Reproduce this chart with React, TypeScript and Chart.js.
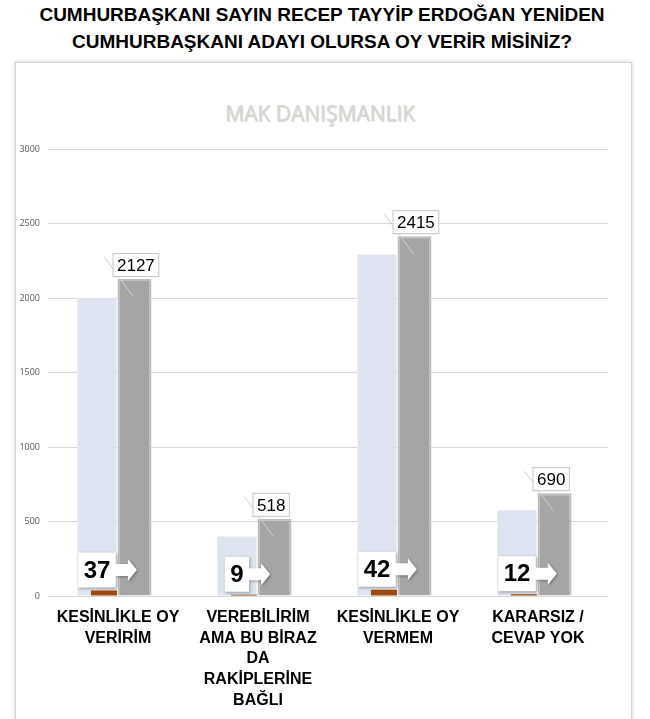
import React, { useEffect, useRef } from "react";
import { Chart, registerables } from "chart.js";

Chart.register(...registerables);

const categories: string[][] = [
  ["KESİNLİKLE OY", "VERİRİM"],
  ["VEREBİLİRİM", "AMA BU BİRAZ", "DA", "RAKİPLERİNE", "BAĞLI"],
  ["KESİNLİKLE OY", "VERMEM"],
  ["KARARSIZ /", "CEVAP YOK"],
];
const percentValues = [37, 9, 42, 12];
const previousValues = [2000, 400, 2290, 575];
const countValues = [2127, 518, 2415, 690];
const yTicks = [0, 500, 1000, 1500, 2000, 2500, 3000];

const labelPlugin = {
  id: "customLabels",
  afterDatasetsDraw(chart: any) {
    const ctx: CanvasRenderingContext2D = chart.ctx;
    const brownMeta = chart.getDatasetMeta(0);
    const blueMeta = chart.getDatasetMeta(1);
    const grayMeta = chart.getDatasetMeta(2);
    ctx.save();
    // gray value labels
    grayMeta.data.forEach((bar: any, i: number) => {
      const p = bar.getProps(["x", "y", "width"], true);
      const left = p.x - p.width / 2;
      const text = String(countValues[i]);
      ctx.font = '17px "Liberation Sans", Arial, sans-serif';
      const tw = ctx.measureText(text).width;
      const bw = tw + 8;
      const bh = 23;
      const bx = left - 5;
      const by = p.y - 3 - bh;
      ctx.strokeStyle = "#cfcfcf";
      ctx.lineWidth = 1;
      ctx.beginPath();
      ctx.moveTo(bx - 8, by + 4);
      ctx.lineTo(p.x - 1, p.y + 18);
      ctx.stroke();
      ctx.fillStyle = "#ffffff";
      ctx.fillRect(bx, by, bw, bh);
      ctx.strokeStyle = "#c4c4c4";
      ctx.strokeRect(bx + 0.5, by + 0.5, bw, bh);
      ctx.fillStyle = "#000000";
      ctx.textAlign = "center";
      ctx.textBaseline = "middle";
      ctx.fillText(text, bx + bw / 2 + 0.5, by + bh / 2 + 1.5);
    });
    // percentage callouts
    brownMeta.data.forEach((bar: any, i: number) => {
      const p = bar.getProps(["x", "y"], true);
      const blue = blueMeta.data[i].getProps(["x"], true);
      const text = String(percentValues[i]);
      ctx.font = 'bold 24px "Liberation Sans", Arial, sans-serif';
      const tw = ctx.measureText(text).width;
      const bw = tw + 11;
      const bh = 35;
      const bx = blue.x - bw / 2;
      const by = p.y - 3 - bh;
      const cy = by + bh / 2;
      const right = bx + bw;
      const tip = right + 21;
      ctx.save();
      ctx.shadowColor = "rgba(0,0,0,0.35)";
      ctx.shadowBlur = 3;
      ctx.shadowOffsetX = 1;
      ctx.shadowOffsetY = 1;
      ctx.fillStyle = "#ffffff";
      ctx.beginPath();
      ctx.moveTo(bx, by);
      ctx.lineTo(right, by);
      ctx.lineTo(right, cy - 6);
      ctx.lineTo(tip - 9, cy - 6);
      ctx.lineTo(tip - 9, cy - 11);
      ctx.lineTo(tip, cy);
      ctx.lineTo(tip - 9, cy + 11);
      ctx.lineTo(tip - 9, cy + 6);
      ctx.lineTo(right, cy + 6);
      ctx.lineTo(right, by + bh);
      ctx.lineTo(bx, by + bh);
      ctx.closePath();
      ctx.fill();
      ctx.restore();
      ctx.fillStyle = "#000000";
      ctx.textAlign = "center";
      ctx.textBaseline = "middle";
      ctx.fillText(text, bx + bw / 2, cy + 1);
    });
    ctx.restore();
  },
};

export default function App() {
  const canvasRef = useRef<HTMLCanvasElement | null>(null);

  useEffect(() => {
    if (!canvasRef.current) return;
    const chart = new Chart(canvasRef.current, {
      type: "bar",
      data: {
        labels: categories,
        datasets: [
          {
            label: "%",
            data: percentValues,
            backgroundColor: "#9e4a10",
            barPercentage: 2.79,
            categoryPercentage: 0.267,
          },
          {
            label: "önceki",
            data: previousValues,
            backgroundColor: "#dde4ef",
            barPercentage: 0.93,
            categoryPercentage: 1.2,
          },
          {
            label: "kişi",
            data: countValues,
            backgroundColor: "#a5a5a5",
            borderColor: "#bdbdbd",
            borderWidth: 2,
            barPercentage: 1.03,
            categoryPercentage: 0.943,
          },
          {
            label: "",
            data: percentValues.map(() => null),
            barPercentage: 1,
            categoryPercentage: 1,
          },
        ] as any,
      },
      options: {
        responsive: false,
        animation: false,
        layout: { padding: { top: 87, right: 24, left: 0, bottom: 0 } },
        plugins: {
          legend: { display: false },
          title: { display: false },
          tooltip: { enabled: false },
        },
        scales: {
          x: {
            type: "category",
            offset: true,
            grid: { display: false },
            border: { display: false },
            ticks: {
              autoSkip: false,
              maxRotation: 0,
              minRotation: 0,
              padding: 3,
              color: "#000000",
              font: {
                family: '"Liberation Sans", Arial, sans-serif',
                size: 16,
                weight: "bold",
                lineHeight: 1.3,
              },
            },
            afterFit: (s: any) => {
              s.height = 123;
            },
          },
          y: {
            min: 0,
            max: 3000,
            afterBuildTicks: (s: any) => {
              s.ticks = yTicks.map((v) => ({ value: v }));
            },
            grid: { color: "#d9d9d9", drawTicks: false },
            border: { display: false },
            ticks: {
              padding: 8,
              color: "#595959",
              font: { family: '"Open Sans", sans-serif', size: 9 },
              callback: (v: any) => String(v),
            },
            afterFit: (s: any) => {
              s.width = 33;
            },
          },
        },
      } as any,
      plugins: [labelPlugin],
    });
    return () => chart.destroy();
  }, []);

  return (
    <div
      style={{
        position: "absolute",
        left: 0,
        top: 0,
        width: 650,
        height: 719,
        overflow: "hidden",
        background: "#ffffff",
      }}
    >
      <div
        style={{
          position: "absolute",
          left: 0,
          top: 1,
          width: 644,
          textAlign: "center",
          fontFamily: '"Liberation Sans", Arial, sans-serif',
          fontWeight: "bold",
          fontSize: 19,
          lineHeight: "27px",
          color: "#000",
        }}
      >
        CUMHURBAŞKANI SAYIN RECEP TAYYİP ERDOĞAN YENİDEN
        <br />
        CUMHURBAŞKANI ADAYI OLURSA OY VERİR MİSİNİZ?
      </div>
      <div
        style={{
          position: "absolute",
          left: 15,
          top: 62,
          width: 617,
          height: 670,
          boxSizing: "border-box",
          border: "1px solid #d4d4d4",
          boxShadow: "0 0 4px rgba(0,0,0,0.2)",
          background: "#ffffff",
        }}
      />
      <div
        style={{
          position: "absolute",
          left: 0,
          top: 99,
          width: 640,
          textAlign: "center",
          fontFamily: '"Open Sans", sans-serif',
          fontSize: 21,
          color: "#d6d6d6",
          textShadow: "1px 1px 1px rgba(0,0,0,0.18)",
        }}
      >
        MAK DANIŞMANLIK
      </div>
      <canvas
        ref={canvasRef}
        width={617}
        height={657}
        style={{ position: "absolute", left: 15, top: 62 }}
      />
    </div>
  );
}
